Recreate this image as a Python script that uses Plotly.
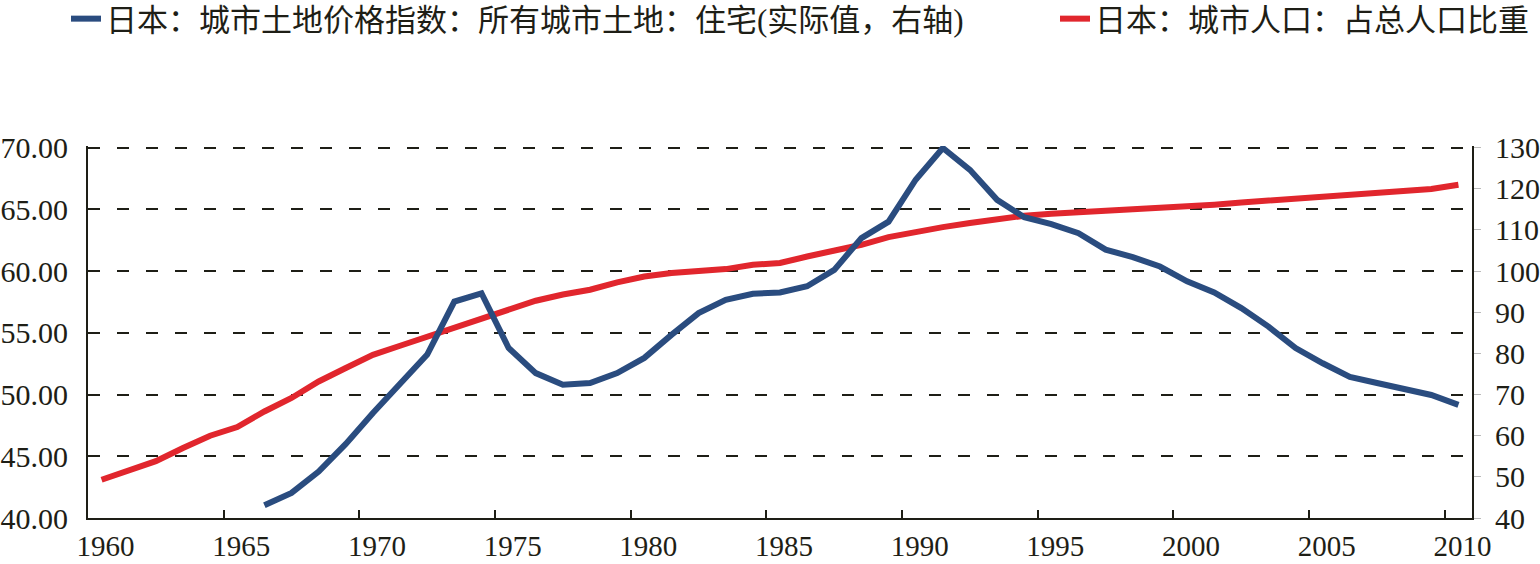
import plotly.graph_objects as go

# ---- data ----
years = [str(y) for y in range(1960, 2011)]
urban_share = [43.10, 43.85, 44.60, 45.67, 46.66, 47.37, 48.63, 49.72, 51.06, 52.15,
               53.22, 53.95, 54.66, 55.38, 56.06, 56.87, 57.60, 58.10, 58.49, 59.08,
               59.56, 59.84, 59.97, 60.16, 60.51, 60.65, 61.18, 61.67, 62.13, 62.75,
               63.21, 63.56, 63.89, 64.21, 64.48, 64.64, 64.75, 64.90, 65.05, 65.20,
               65.22, 65.38, 65.55, 65.72, 65.88, 66.04, 66.20, 66.35, 66.50, 66.65,
               66.99]
land_years = [str(y) for y in range(1966, 2011)]
land_price = [43.1, 46.1, 51.3, 58.0, 65.5, 72.6, 79.7, 92.6, 94.6, 81.3,
              75.2, 72.4, 72.8, 75.2, 78.9, 84.5, 89.8, 93.0, 94.5, 94.8,
              96.3, 100.3, 108.0, 112.0, 122.2, 129.9, 124.6, 117.3, 113.1, 111.4,
              109.2, 105.2, 103.4, 101.1, 97.5, 94.8, 91.0, 86.5, 81.3, 77.6,
              74.3, 72.8, 71.3, 69.9, 67.5]
name_land = "日本：城市土地价格指数：所有城市土地：住宅(实际值，右轴)"
name_urban = "日本：城市人口：占总人口比重"
left_ticks = [40, 45, 50, 55, 60, 65, 70]
right_ticks = [40, 50, 60, 70, 80, 90, 100, 110, 120, 130]

BLUE = "#2a4c7f"
RED = "#e1262d"
INK = "#1e1e16"
NUM_FONT = "Liberation Serif, Times New Roman, serif"
CJK_FONT = "Liberation Serif, Noto Sans CJK SC, serif"

# small headroom so the 70 gridline is not clipped at the plot edge
PAD_L = 0.13
PAD_R = PAD_L * 3

TOP, BOT = 146, 46
plot_h = 564 - TOP - BOT


def paper_y(px):
    return 1 + (TOP - px) / plot_h


fig = go.Figure()
fig.add_trace(go.Scatter(x=land_years, y=land_price, name=name_land, yaxis="y2",
                         mode="lines", line=dict(color=BLUE, width=6),
                         legend="legend"))
fig.add_trace(go.Scatter(x=years, y=urban_share, name=name_urban, yaxis="y",
                         mode="lines", line=dict(color=RED, width=6),
                         legend="legend2"))

legend_common = dict(orientation="h", xref="container", yref="paper",
                     xanchor="left", yanchor="top",
                     font=dict(family=CJK_FONT, size=31, color=INK),
                     bgcolor="rgba(0,0,0,0)", borderwidth=0)

fig.update_layout(
    width=1540, height=564,
    margin=dict(l=88, r=68, t=TOP, b=BOT, autoexpand=False),
    paper_bgcolor="white", plot_bgcolor="white",
    font=dict(family=NUM_FONT, size=30, color=INK),
    xaxis=dict(type="category", categoryorder="array", categoryarray=years,
               range=[-0.5, len(years) - 0.5], tickmode="array",
               tickvals=years[::5], ticktext=years[::5], tickangle=0,
               tickson="boundaries", ticks="inside", ticklen=8, tickwidth=2,
               tickcolor=INK, showline=True, linecolor=INK, linewidth=2,
               showgrid=False, zeroline=False, ticklabelstandoff=1,
               ticklabelshift=4,
               tickfont=dict(family=NUM_FONT, size=29, color=INK)),
    yaxis=dict(range=[40, 70 + PAD_L], tickmode="array", tickvals=left_ticks,
               tickformat=".2f", showline=True, linecolor=INK, linewidth=2,
               ticks="", showgrid=True, gridcolor=INK, gridwidth=2,
               griddash="12px,17px", zeroline=False, ticklabelstandoff=12,
               tickfont=dict(family=NUM_FONT, size=30, color=INK)),
    yaxis2=dict(range=[40, 130 + PAD_R], tickmode="array", tickvals=right_ticks,
                overlaying="y", side="right", showline=True, linecolor=INK,
                linewidth=2, ticks="outside", ticklen=7, tickwidth=1,
                tickcolor="#bbbbbb", showgrid=False, zeroline=False,
                ticklabelstandoff=8,
                tickfont=dict(family=NUM_FONT, size=30, color=INK)),
    showlegend=True,
    legend=dict(x=66 / 1540, y=paper_y(-8), **legend_common),
    legend2=dict(x=1055 / 1540, y=paper_y(-8), **legend_common),
)

fig.write_html("out.html")
